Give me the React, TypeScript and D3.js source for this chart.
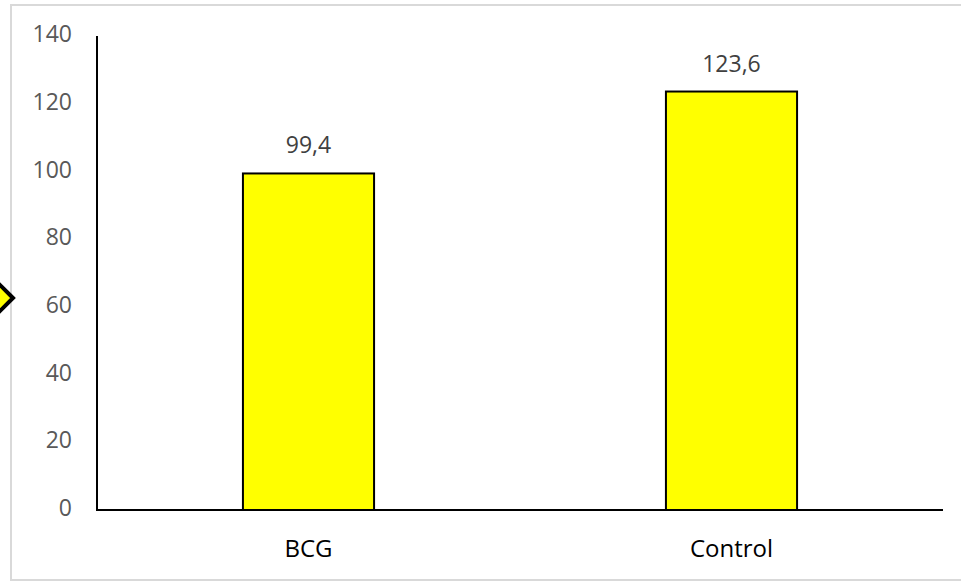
import React from "react";
import * as d3 from "d3";

const categories = ["BCG", "Control"];
const values = [99.4, 123.6];
const valueLabels = ["99,4", "123,6"];
const yTicks = [0, 20, 40, 60, 80, 100, 120, 140];

const W = 961;
const H = 583;
const FONT = "'Open Sans', 'Noto Sans', sans-serif";

export default function App() {
  const left = 97;
  const right = 943;
  const top = 36;
  const bottom = 510;
  const x = d3.scaleBand<string>().domain(categories).range([left, right]).padding(0);
  const y = d3.scaleLinear().domain([0, 140]).range([bottom, top]);
  const barW = x.bandwidth() * 0.31;

  return (
    <svg width={W} height={H} style={{ position: "absolute", left: 0, top: 0, background: "#fff" }}>
      <rect x={11} y={5} width={W + 10} height={575} fill="#fff" stroke="#d9d9d9" strokeWidth={2} />
      <path d="M13,298 L-16,269 L-45,298 L-16,327 Z" fill="#ffff00" stroke="#000" strokeWidth={4} />
      {yTicks.map((t) => (
        <text key={t} x={72} y={y(t)} textAnchor="end" dominantBaseline="middle" fontFamily={FONT} fontSize={23} fill="#595959">
          {t}
        </text>
      ))}
      {categories.map((c, i) => {
        const cx = (x(c) as number) + x.bandwidth() / 2;
        return (
          <g key={c}>
            <rect x={cx - barW / 2} y={y(values[i])} width={barW} height={y(0) - y(values[i])} fill="#ffff00" stroke="#000" strokeWidth={2} />
            <text x={cx} y={y(values[i]) - 20} textAnchor="middle" fontFamily={FONT} fontSize={23} fill="#404040">
              {valueLabels[i]}
            </text>
            <text x={cx} y={557} textAnchor="middle" fontFamily={FONT} fontSize={24} fill="#000">
              {c}
            </text>
          </g>
        );
      })}
      <line x1={left} x2={left} y1={top} y2={bottom} stroke="#000" strokeWidth={2} />
      <line x1={left - 1} x2={right} y1={bottom} y2={bottom} stroke="#000" strokeWidth={2} />
    </svg>
  );
}
